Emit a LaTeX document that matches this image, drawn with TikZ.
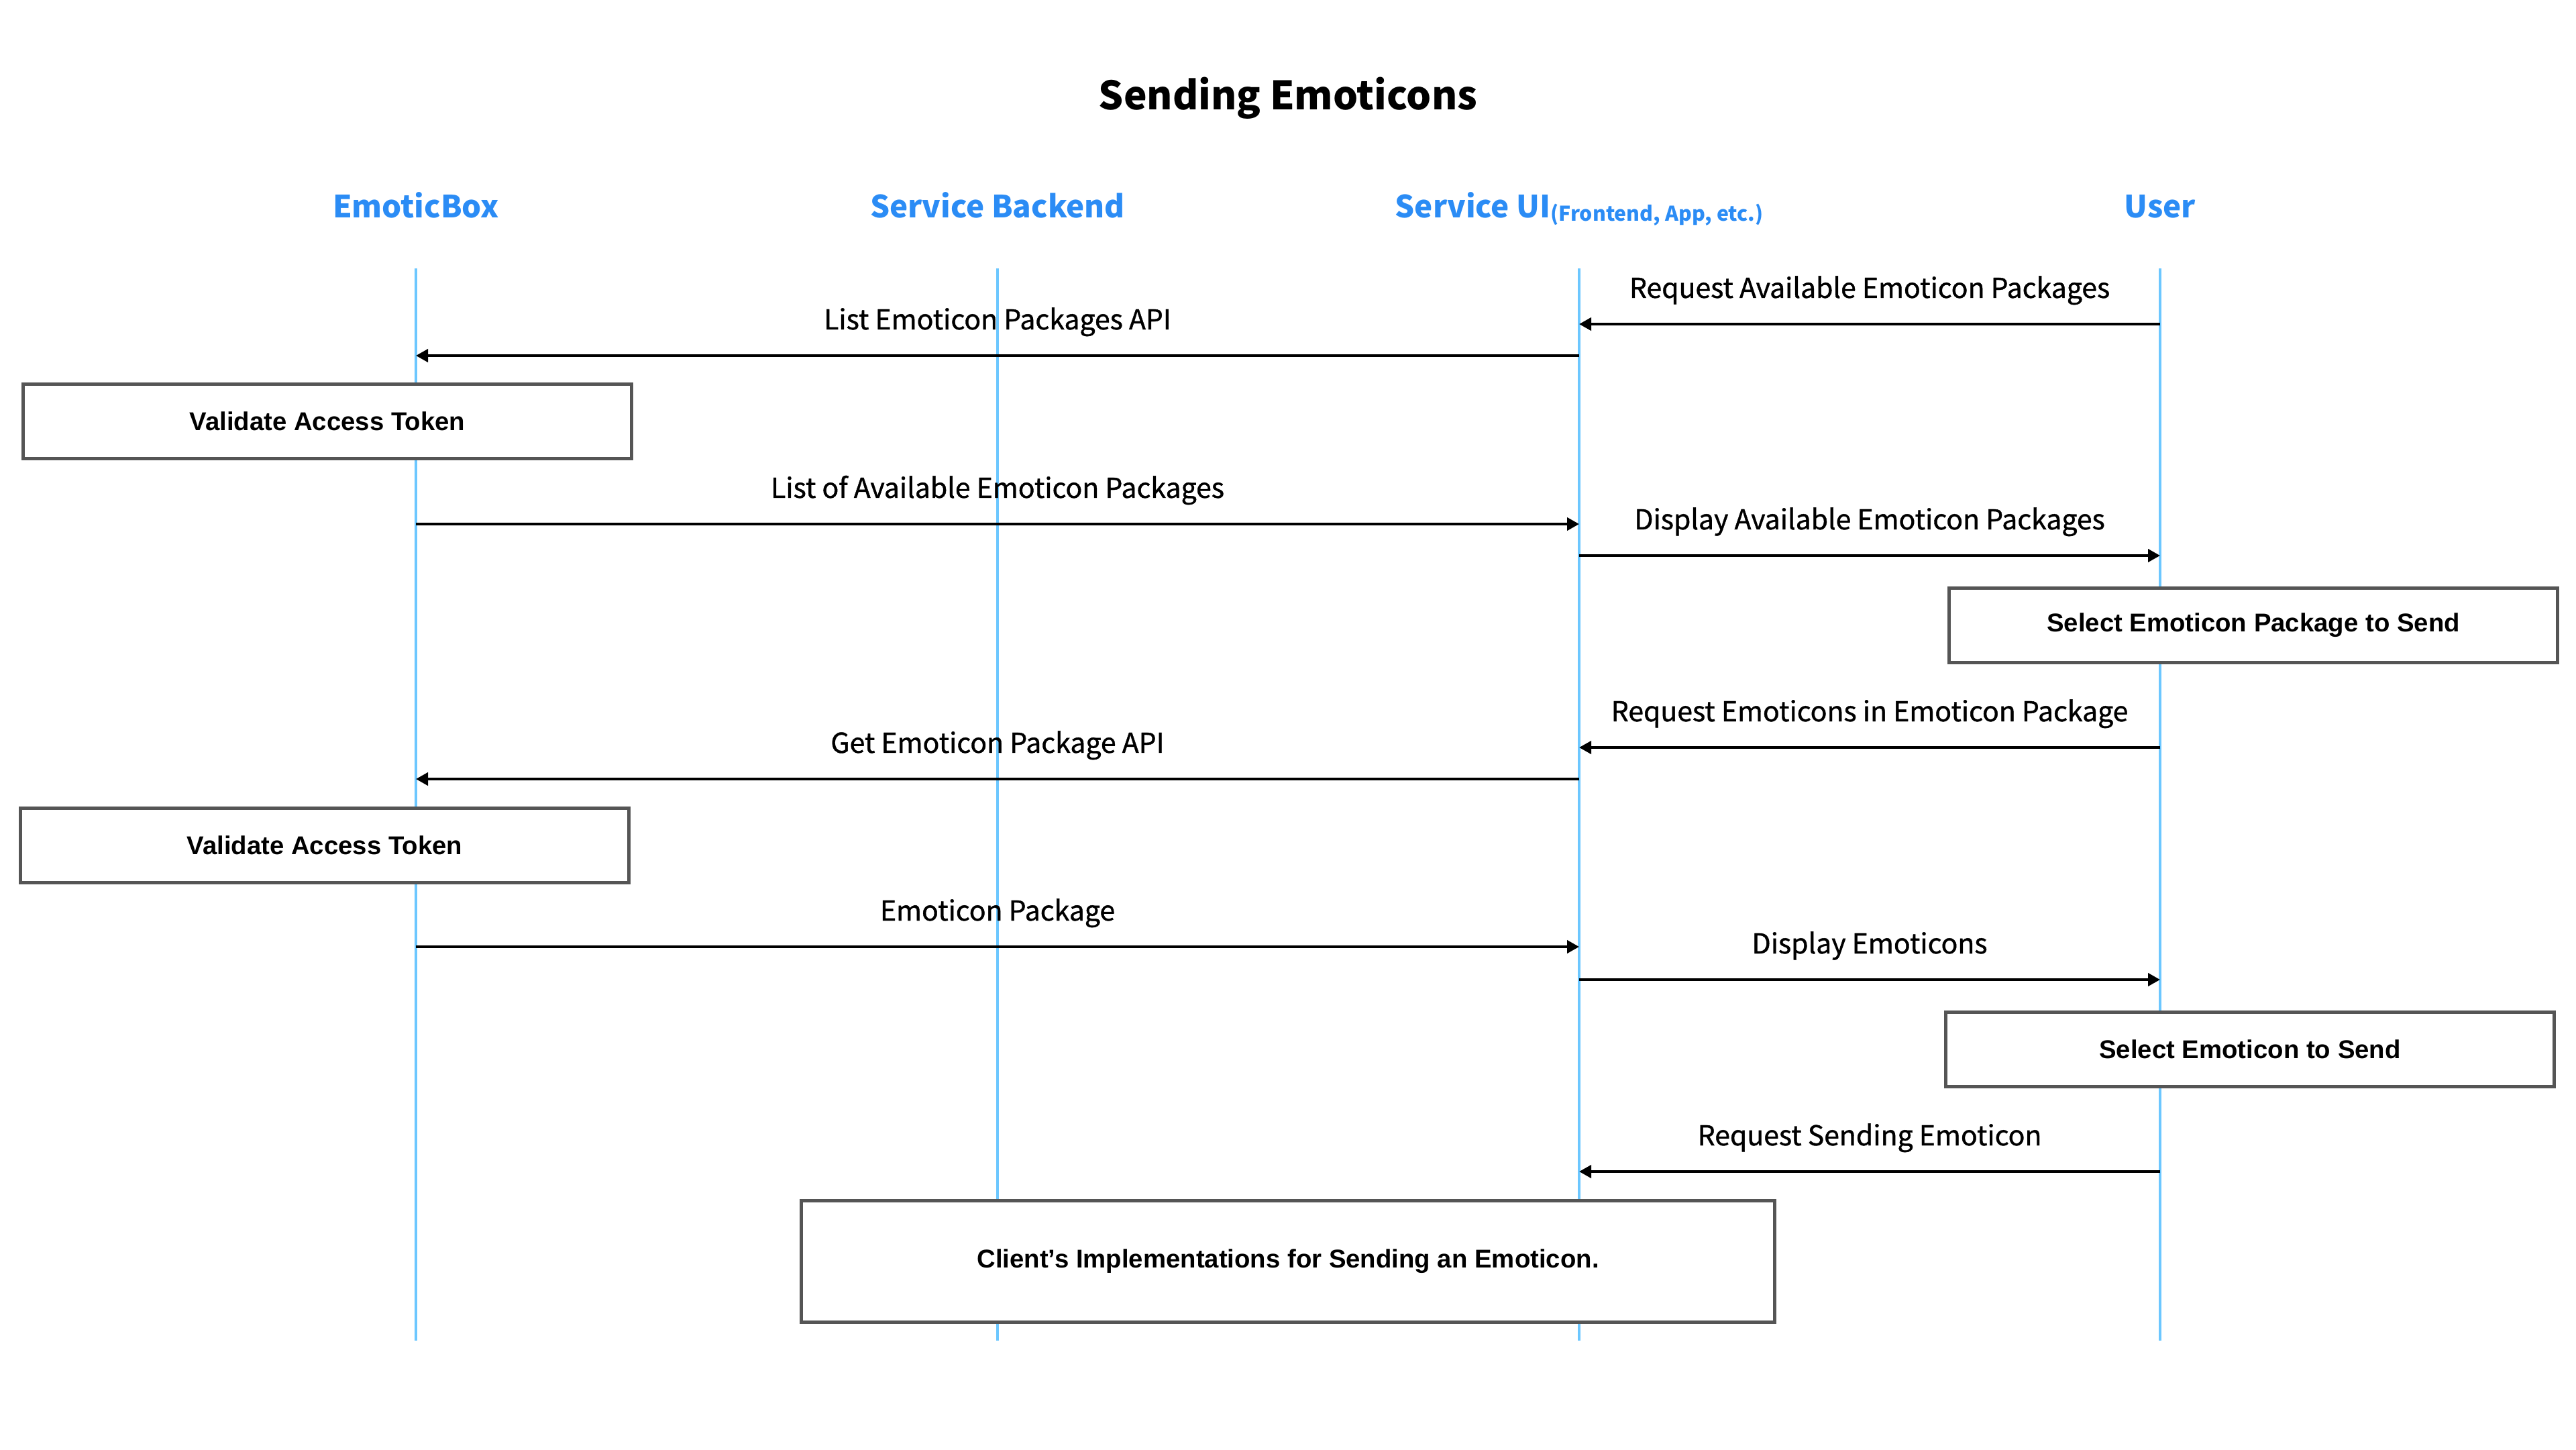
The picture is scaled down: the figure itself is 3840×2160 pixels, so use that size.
\documentclass[tikz,border=0pt]{standalone}
\usepackage{fontspec}
\setmainfont{Noto Sans CJK KR}
\newfontfamily\lblfont{Noto Sans CJK KR}[FakeBold=1]
\newfontfamily\boxfont{Liberation Sans}
\usetikzlibrary{arrows.meta}

\definecolor{lifeblue}{RGB}{108,199,255}
\definecolor{headblue}{RGB}{43,140,245}
\definecolor{boxgray}{RGB}{85,85,85}

\begin{document}
\begin{tikzpicture}
  [x=0.01cm, y=-0.01cm,
   head/.style={anchor=base, text=headblue, font=\fontsize{13}{16}\selectfont\bfseries},
   life/.style={draw=lifeblue, line width=0.04cm},
   msg/.style={-{Triangle[length=0.18cm,width=0.19cm]}, line width=0.04cm},
   lbl/.style={anchor=base, yshift=0.39cm, font=\lblfont\fontsize{11.65}{14}\selectfont},
   act/.style={draw=boxgray, fill=white, line width=0.05cm, minimum width=9.06cm, minimum height=1.1cm,
     font=\boxfont\bfseries\fontsize{10.9}{13}\selectfont}]
  \useasboundingbox (0,0) rectangle (3840,2160);

  \node[anchor=base, font=\fontsize{16.6}{20}\selectfont\bfseries] (title) at (1920,163) {Sending Emoticons};

  % lifelines
  \foreach \n/\x/\t in {box/620/EmoticBox, backend/1487/Service Backend,
      ui/2354/{Service UI\raisebox{-0.05cm}{\fontsize{8.6}{10}\selectfont(Frontend, App, etc.)}}, user/3220/User} {
    \node[head] (h\n) at (\x,324) {\t};
    \coordinate (\n) at (\x,400);
    \coordinate (\n end) at (\x,1998);
    \draw[life] (\n) -- (\n end);
  }

  % messages
  \foreach \from/\to/\y/\t in {user/ui/483/Request Available Emoticon Packages,
      ui/box/530/List Emoticon Packages API,
      box/ui/781/List of Available Emoticon Packages,
      ui/user/828/Display Available Emoticon Packages,
      user/ui/1114/Request Emoticons in Emoticon Package,
      ui/box/1161/Get Emoticon Package API,
      box/ui/1411/Emoticon Package,
      ui/user/1460/Display Emoticons,
      user/ui/1746/Request Sending Emoticon}
  \draw[msg] (\from |- 0,\y) -- (\to |- 0,\y) node[midway, lbl] {\t};

  \node[act] (token1) at (488,628) {Validate Access Token};
  \node[act] (pick1) at (3359,932) {Select Emoticon Package to Send};
  \node[act] (token2) at (484,1260) {Validate Access Token};
  \node[act] (pick2) at (3354,1564) {Select Emoticon to Send};
  \node[act, minimum width=14.51cm, minimum height=1.8cm] (client) at (1920,1880)
    {Client’s Implementations for Sending an Emoticon.};
\end{tikzpicture}
\end{document}
